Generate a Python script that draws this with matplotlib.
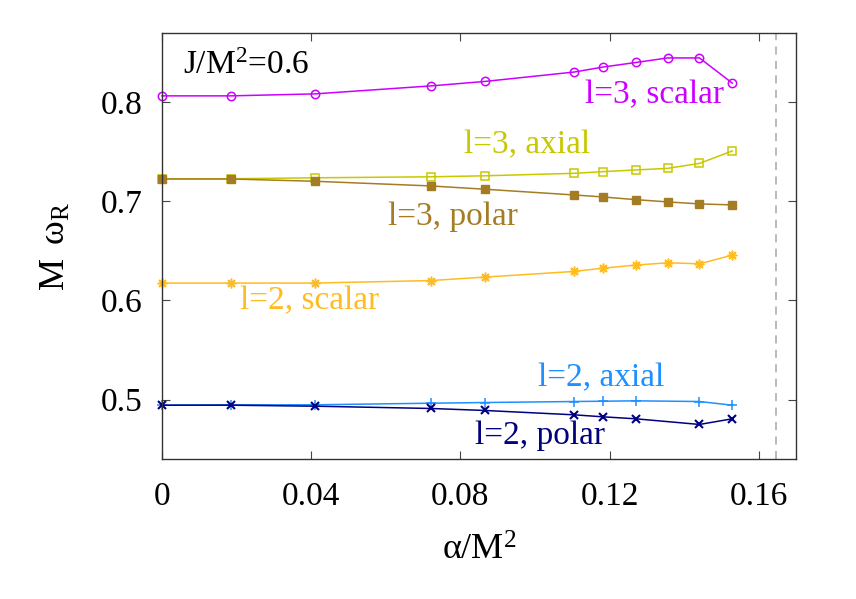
#!/usr/bin/env python
# -*- coding: utf-8 -*-
"""
Quasinormal mode frequencies M omega_R versus alpha/M^2 for J/M^2 = 0.6
"""

import matplotlib as mpl
mpl.use('Agg')

import matplotlib.pyplot as plt

mpl.rcParams.update({'font.family': ['Liberation Serif', 'DejaVu Serif']})
mpl.rcParams.update({'mathtext.fontset': 'custom'})
mpl.rcParams.update({'mathtext.rm': 'Liberation Serif'})
mpl.rcParams.update({'mathtext.it': 'Liberation Serif:italic'})
mpl.rcParams.update({'font.size': 24})

# alpha/M^2 values
alpha = [0.0, 0.0185, 0.041, 0.072, 0.0865, 0.1105, 0.1182, 0.127,
         0.1356, 0.1441, 0.1529]
# l=2 axial and polar have no point at 0.1356
alpha_l2 = [0.0, 0.0185, 0.041, 0.072, 0.0865, 0.1105, 0.1182, 0.127,
            0.1441, 0.1529]

l3_scalar = [0.806, 0.806, 0.808, 0.816, 0.8205, 0.830, 0.835, 0.8396,
             0.8442, 0.8442, 0.8188]
l3_axial = [0.7225, 0.7225, 0.7235, 0.7245, 0.7255, 0.728, 0.7297, 0.7314,
            0.733, 0.738, 0.7505]
l3_polar = [0.7223, 0.7223, 0.720, 0.7153, 0.712, 0.7062, 0.7042, 0.7015,
            0.6992, 0.6972, 0.6962]
l2_scalar = [0.6175, 0.6175, 0.6175, 0.620, 0.6235, 0.6292, 0.6325, 0.6356,
             0.6379, 0.6369, 0.6456]
l2_axial = [0.4945, 0.4949, 0.4949, 0.4965, 0.4972, 0.4982, 0.4985, 0.4989,
            0.4982, 0.4945]
l2_polar = [0.4945, 0.4945, 0.4935, 0.4912, 0.4892, 0.4848, 0.4828, 0.4808,
            0.4751, 0.4808]

alpha_max = 0.1646

xticks = [0, 0.04, 0.08, 0.12, 0.16]
xtick_labels = ['0', '0.04', '0.08', '0.12', '0.16']
yticks = [0.5, 0.6, 0.7, 0.8]
ytick_labels = ['0.5', '0.6', '0.7', '0.8']


def main():
    fig = plt.figure(figsize=(8.56, 5.99), dpi=100)
    ax = fig.add_axes([0.1893, 0.2332, 0.7407, 0.7112])

    lw = 1.1
    ax.axvline(alpha_max, color='#b4b4b4', lw=1.3, dashes=(4.5, 3.5),
               zorder=1)

    ax.plot(alpha, l3_scalar, color='#cc00ff', lw=lw, marker='o', ms=6,
            mfc='none', mew=1.1, clip_on=False)
    ax.plot(alpha, l3_axial, color='#c8c800', lw=lw, marker='s', ms=6,
            mfc='none', mew=1.1, clip_on=False)
    ax.plot(alpha, l3_polar, color='#a47c24', lw=lw, marker='s', ms=6,
            clip_on=False)
    ax.plot(alpha, l2_scalar, color='#ffbb22', lw=lw, marker=(8, 2, 0),
            ms=7, mew=1.1, clip_on=False)
    ax.plot(alpha_l2, l2_axial, color='#1e90ff', lw=lw, marker='+', ms=7,
            mew=1.1, clip_on=False)
    ax.plot(alpha_l2, l2_polar, color='#000080', lw=lw, marker='x', ms=6,
            mew=1.5, clip_on=False)

    # curve labels
    ax.text(0.1135, 0.8067, 'l=3, scalar', color='#cc00ff', va='center')
    ax.text(0.0809, 0.7565, 'l=3, axial', color='#c8c800', va='center')
    ax.text(0.0606, 0.6844, 'l=3, polar', color='#a47c24', va='center')
    ax.text(0.0208, 0.599, 'l=2, scalar', color='#ffbb22', va='center')
    ax.text(0.1008, 0.522, 'l=2, axial', color='#1e90ff', va='center')
    ax.text(0.0838, 0.4633, 'l=2, polar', color='#000080', va='center')
    ax.text(0.0055, 0.8359, r'J/M$^2$=0.6', color='black', va='center')

    ax.set_xlim(0, 0.17)
    ax.set_ylim(0.44, 0.869)
    ax.set_xticks(xticks)
    ax.set_xticklabels(xtick_labels)
    ax.set_yticks(yticks)
    ax.set_yticklabels(ytick_labels)

    ax.tick_params(direction='in', length=5.5, width=0.8, color='#444444',
                   top=True, right=True)
    ax.tick_params(axis='x', pad=16)
    ax.tick_params(axis='y', pad=14)
    for sp in ax.spines.values():
        sp.set_linewidth(1.0)
        sp.set_color('#333333')

    ax.set_xlabel(r'$\mathrm{\alpha/M^2}$', fontsize=26, labelpad=16)
    ax.set_ylabel(r'$\mathrm{M\;\;\omega_R}$', fontsize=26, labelpad=20)

    fig.savefig('out.png', dpi=100)
    plt.close(fig)


if __name__ == "__main__":
    main()
